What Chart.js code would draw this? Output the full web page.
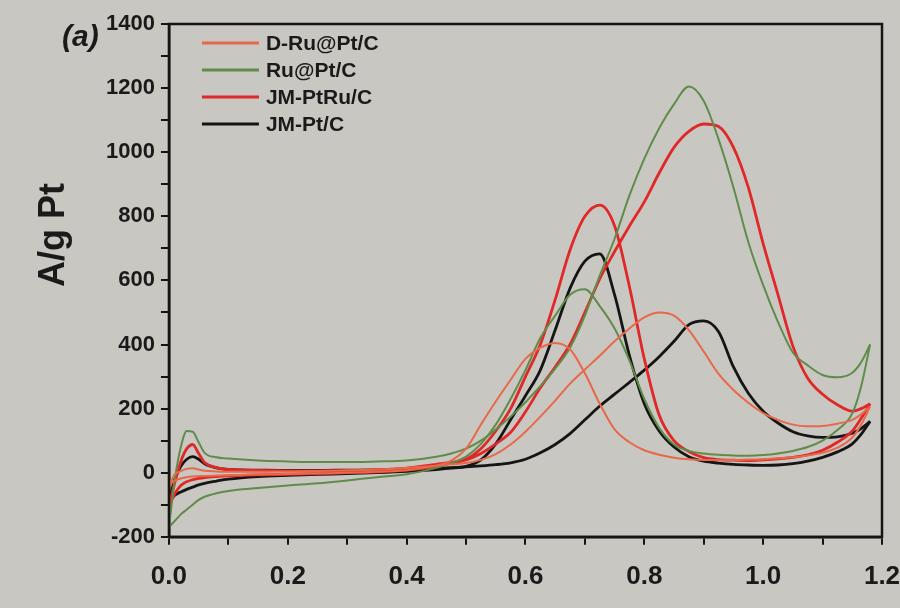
<!DOCTYPE html>
<html lang="en">
<head>
<meta charset="UTF-8">
<title>CV curves</title>
<script src="https://cdn.jsdelivr.net/npm/chart.js"></script>
<style>
  html, body { margin: 0; padding: 0; background: #c9c7c1; }
  #wrap { width: 900px; height: 608px; }
</style>
</head>
<body>
<div id="wrap"><canvas id="cv"></canvas></div>
<script>
// potential grid (V), shared by every scan
const potential = [0, 0.01, 0.02, 0.03, 0.04, 0.05, 0.06, 0.08, 0.1, 0.15,
  0.2, 0.25, 0.3, 0.35, 0.4, 0.45, 0.475, 0.5, 0.525, 0.55,
  0.575, 0.6, 0.625, 0.65, 0.675, 0.7, 0.725, 0.75, 0.775, 0.8,
  0.825, 0.85, 0.875, 0.9, 0.925, 0.95, 0.975, 1.0, 1.025, 1.05,
  1.075, 1.1, 1.125, 1.15, 1.165, 1.18];

// current (A/g Pt), forward (anodic) and reverse scans
const dRuFwd = [-40, -5, 5, 12, 14, 10, 6, 4, 3, 3,
  4, 5, 7, 10, 15, 22, 26, 30, 40, 58,
  88, 128, 175, 225, 278, 322, 365, 410, 450, 485,
  500, 490, 445, 378, 308, 258, 218, 186, 165, 150,
  145, 146, 153, 165, 182, 206];
const dRuRev = [-40, -25, -18, -14, -12, -11, -10, -9, -8, -6,
  -4, -2, 0, 3, 8, 22, 38, 75, 150, 222,
  290, 355, 390, 405, 385, 310, 215, 135, 95, 70,
  56, 47, 42, 40, 40, 40, 41, 42, 45, 48,
  54, 62, 78, 110, 150, 206];

const ruFwd = [-170, -20, 80, 130, 128, 95, 62, 48, 44, 38,
  35, 33, 33, 35, 38, 50, 60, 75, 100, 135,
  175, 220, 270, 325, 390, 490, 615, 730, 865, 980,
  1075, 1150, 1205, 1160, 1040, 890, 720, 585, 470, 375,
  335, 305, 298, 312, 345, 400];
const ruRev = [-170, -150, -130, -115, -100, -85, -75, -64, -57, -48,
  -40, -33, -24, -14, -5, 15, 30, 50, 90, 150,
  230, 320, 420, 490, 555, 572, 520, 450, 350, 230,
  140, 88, 68, 60, 56, 54, 53, 55, 60, 68,
  80, 100, 133, 185, 270, 400];

const ptRuFwd = [-105, -30, 35, 75, 88, 60, 32, 16, 10, 7,
  6, 6, 7, 9, 14, 26, 32, 40, 60, 90,
  126, 190, 265, 330, 400, 500, 605, 690, 770, 845,
  935, 1015, 1065, 1088, 1080, 1015, 890, 715, 555, 395,
  295, 245, 212, 192, 200, 215];
const ptRuRev = [-105, -65, -40, -28, -22, -18, -15, -12, -10, -7,
  -5, -3, 0, 3, 8, 20, 30, 42, 75, 130,
  200, 300, 400, 540, 695, 800, 835, 770, 580, 355,
  180, 100, 66, 47, 41, 39, 38, 40, 43, 48,
  56, 70, 95, 130, 170, 215];

const ptFwd = [-90, -20, 20, 42, 50, 42, 28, 15, 10, 8,
  7, 7, 8, 9, 11, 14, 16, 18, 21, 25,
  31, 42, 62, 88, 122, 165, 208, 245, 282, 320,
  362, 410, 462, 474, 440, 330, 248, 192, 155, 128,
  115, 110, 112, 123, 138, 160];
const ptRev = [-90, -70, -60, -52, -45, -38, -33, -26, -20, -12,
  -8, -5, -3, 0, 4, 10, 14, 20, 40, 90,
  165, 240, 320, 445, 575, 660, 683, 555, 365, 215,
  130, 80, 50, 36, 30, 26, 24, 23, 24, 28,
  36, 48, 65, 90, 120, 160];

const seriesNames = ['D-Ru@Pt/C', 'Ru@Pt/C', 'JM-PtRu/C', 'JM-Pt/C'];
const seriesColors = ['#e8684a', '#5f8c4a', '#e02828', '#151515'];
const seriesWidths = [2, 2, 2.8, 2.8];
const scans = [[dRuFwd, dRuRev], [ruFwd, ruRev], [ptRuFwd, ptRuRev], [ptFwd, ptRev]];

const xLabels = [0, 0.2, 0.4, 0.6, 0.8, 1.0, 1.2];
const yLabels = [-200, 0, 200, 400, 600, 800, 1000, 1200, 1400];

function toPoints(values) {
    return potential.map((e, i) => ({ x: e, y: values[i] }));
}

// each loop is two datasets (forward + reverse) in the same colour
const datasets = [];
scans.forEach((pair, s) => {
    pair.forEach((values, k) => {
        datasets.push({
            label: k === 0 ? seriesNames[s] : '',
            data: toPoints(values),
            showLine: true,
            borderColor: seriesColors[s],
            borderWidth: seriesWidths[s],
            pointRadius: 0,
            cubicInterpolationMode: 'monotone'
        });
    });
});

// frame, legend, panel tag and y title
const decor = {
    id: 'decor',
    afterDraw(chart) {
        const { ctx, chartArea: a } = chart;
        ctx.save();
        ctx.strokeStyle = '#151515';
        ctx.lineWidth = 2.5;
        ctx.strokeRect(a.left, a.top, a.right - a.left, a.bottom - a.top);

        ctx.font = 'bold 21px Arial';
        ctx.textBaseline = 'middle';
        seriesNames.forEach((name, i) => {
            const y = a.top + 19 + i * 27;
            ctx.strokeStyle = seriesColors[i];
            ctx.lineWidth = 3;
            ctx.beginPath();
            ctx.moveTo(a.left + 33, y);
            ctx.lineTo(a.left + 90, y);
            ctx.stroke();
            ctx.fillStyle = '#1a1a1a';
            ctx.fillText(name, a.left + 97, y + 1);
        });

        ctx.font = 'italic bold 30px Arial';
        ctx.fillText('(a)', 62, 38);

        ctx.translate(54, 235);
        ctx.rotate(-Math.PI / 2);
        ctx.textAlign = 'center';
        ctx.font = 'bold 36px Arial';
        ctx.fillText('A/g Pt', 0, 0);
        ctx.restore();
    }
};

const near = (list, v, tol) => list.some(t => Math.abs(t - v) < tol);

new Chart(document.getElementById('cv').getContext('2d'), {
    type: 'scatter',
    data: { datasets: datasets },
    plugins: [decor],
    options: {
        responsive: true,
        maintainAspectRatio: false,
        animation: false,
        layout: { padding: { left: 100, right: 18, top: 24, bottom: 0 } },
        plugins: {
            legend: { display: false },
            tooltip: { enabled: false }
        },
        scales: {
            x: {
                type: 'linear',
                min: 0,
                max: 1.2,
                afterFit: scale => { scale.paddingRight = 0; },
                border: { display: true, color: '#151515', width: 2.5 },
                grid: { drawOnChartArea: false, color: '#151515', lineWidth: 2, tickLength: 8 },
                ticks: {
                    stepSize: 0.1,
                    autoSkip: false,
                    maxRotation: 0,
                    padding: 16,
                    color: '#1a1a1a',
                    font: { family: 'Arial', size: 26, weight: 'bold' },
                    callback: v => near(xLabels, v, 1e-6) ? v.toFixed(1) : ''
                }
            },
            y: {
                min: -200,
                max: 1400,
                border: { display: true, color: '#151515', width: 2.5 },
                grid: { drawOnChartArea: false, color: '#151515', lineWidth: 2, tickLength: 8 },
                ticks: {
                    stepSize: 100,
                    autoSkip: false,
                    padding: 6,
                    color: '#1a1a1a',
                    font: { family: 'Arial', size: 22, weight: 'bold' },
                    callback: v => near(yLabels, v, 1e-6) ? String(v) : ''
                }
            }
        }
    }
});
</script>
</body>
</html>
